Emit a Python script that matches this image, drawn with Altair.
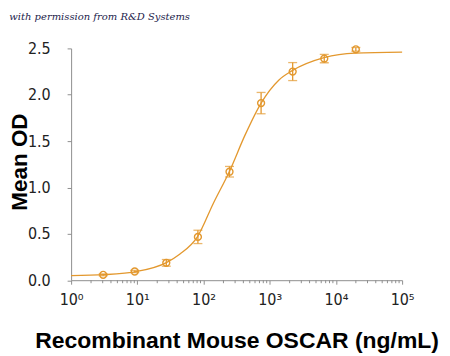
import altair as alt
import pandas as pd

# measured points
conc = [3.05, 9.14, 27.4, 82.3, 247, 741, 2222, 6667, 20000]
od = [0.058, 0.094, 0.187, 0.467, 1.17, 1.91, 2.25, 2.39, 2.49]
err = [0.010, 0.012, 0.036, 0.072, 0.057, 0.115, 0.097, 0.045, 0.020]

# fitted curve
curve_x = [1, 3.16, 10, 27.5, 43.6, 81.3, 141, 245, 427, 741, 1380, 2190, 6610, 19500, 100000]
curve_y = [0.05, 0.06, 0.095, 0.19, 0.28, 0.47, 0.83, 1.17, 1.57, 1.91, 2.16, 2.26, 2.40, 2.45, 2.46]

major_ticks = [1, 10, 100, 1000, 10000, 100000]
minor_ticks = [m * 10 ** e for e in range(5) for m in range(2, 10)]

y_ticks = [0.0, 0.5, 1.0, 1.5, 2.0, 2.5]

COLOR = "#E3982E"
AXIS_GRAY = "#8f8f8f"
NARROW = "Liberation Sans Narrow, DejaVu Sans Condensed, sans-serif"

pts = pd.DataFrame({"conc": conc, "od": od, "err": err})
pts["lo"] = pts["od"] - pts["err"]
pts["hi"] = pts["od"] + pts["err"]
curve = pd.DataFrame({"x": curve_x, "y": curve_y})
minor = pd.DataFrame({"m": minor_ticks})

xscale = alt.Scale(type="log", domain=[1, 100000], nice=False)
yscale = alt.Scale(domain=[0, 2.5], nice=False)

xaxis = alt.Axis(
    values=major_ticks,
    labelExpr="'10' + ['\u2070','\u00b9','\u00b2','\u00b3','\u2074','\u2075'][round(log(datum.value)/log(10))]",
    title="Recombinant Mouse OSCAR (ng/mL)",
    titleFont="Liberation Sans", titleFontSize=23, titleFontWeight="bold", titleColor="#000",
    titleBaseline="alphabetic", titleY=67,
    labelFont=NARROW, labelFontSize=16, labelColor="#222", labelPadding=7,
    domainColor=AXIS_GRAY, tickColor=AXIS_GRAY, tickSize=4, grid=False, labelFlush=False,
)
yaxis = alt.Axis(
    values=y_ticks, format=".1f",
    title="Mean OD",
    titleFont="Liberation Sans", titleFontSize=22.5, titleFontWeight="bold", titleColor="#000",
    titleAngle=270, titleAlign="center", titleBaseline="middle", titleX=-51.5, titleY=113.5,
    labelFont=NARROW, labelFontSize=16, labelColor="#222", labelPadding=17,
    domainColor=AXIS_GRAY, tickColor=AXIS_GRAY, tickSize=4, grid=False,
)

line = alt.Chart(curve).mark_line(color=COLOR, strokeWidth=1.3, interpolate="monotone").encode(
    x=alt.X("x:Q", scale=xscale, axis=xaxis),
    y=alt.Y("y:Q", scale=yscale, axis=yaxis),
)
bars = alt.Chart(pts).mark_rule(color=COLOR, strokeWidth=1.3).encode(
    x="conc:Q", y="lo:Q", y2="hi:Q"
)
cap_lo = alt.Chart(pts).mark_tick(color=COLOR, orient="horizontal", size=9, thickness=1.3).encode(
    x="conc:Q", y="lo:Q"
)
cap_hi = alt.Chart(pts).mark_tick(color=COLOR, orient="horizontal", size=9, thickness=1.3).encode(
    x="conc:Q", y="hi:Q"
)
dots = alt.Chart(pts).mark_point(shape="circle", filled=False, color=COLOR, size=48, strokeWidth=1.4, opacity=1).encode(
    x="conc:Q", y="od:Q"
)
minors = alt.Chart(minor).mark_rule(color=AXIS_GRAY, strokeWidth=1).encode(
    x="m:Q", y=alt.value(232.5), y2=alt.value(235.5)
)
note = alt.Chart(pd.DataFrame({"t": ["with permission from R&D Systems"]})).mark_text(
    align="left", baseline="middle", font="DejaVu Serif", fontStyle="italic", fontSize=10,
    color="#1c1c4c"
).encode(text="t:N", x=alt.value(-62), y=alt.value(-31))

chart = alt.layer(line, bars, cap_lo, cap_hi, dots, minors, note).properties(
    width=332, height=232.5,
    autosize=alt.AutoSizeParams(type="none"),
    padding={"left": 63.3, "top": 40, "right": 40, "bottom": 74},
).configure_view(stroke=None)

chart.save("out.html", embed_options={"renderer": "svg", "actions": False})
